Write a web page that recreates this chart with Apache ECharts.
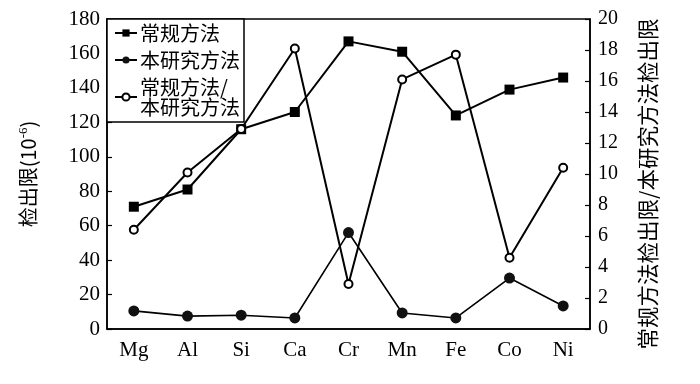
<!DOCTYPE html>
<html><head><meta charset="utf-8">
<script src="https://cdn.jsdelivr.net/npm/echarts@6/dist/echarts.min.js"></script>
<style>html,body{margin:0;padding:0;background:#fff}#c{width:700px;height:384px}</style>
</head><body><div id="c"></div>
<script>
const categories = ['Mg','Al','Si','Ca','Cr','Mn','Fe','Co','Ni'];
const conventional = [71, 81, 116, 126, 167, 161, 124, 139, 146];
const thisStudy = [10.5, 7.5, 8, 6.4, 56, 9.3, 6.4, 29.6, 13.4];
const ratio = [6.4, 10.1, 12.9, 18.1, 2.9, 16.1, 17.7, 4.6, 10.4];
const leftTicks = {min: 0, max: 180, interval: 20};
const rightTicks = {min: 0, max: 20, interval: 2};
const names = ['常规方法', '本研究方法', '常规方法/\n本研究方法'];

const serif = '"Liberation Serif", "DejaVu Serif", serif';
const cjk = '"Noto Sans CJK SC", sans-serif';
const chart = echarts.init(document.getElementById('c'), null, {renderer: 'canvas'});
chart.setOption({
  animation: false,
  backgroundColor: '#fff',
  grid: {left: 107, right: 110, top: 19, bottom: 55, outerBoundsMode: 'none', containLabel: false, show: true, borderColor: '#000', borderWidth: 1.5, backgroundColor: 'transparent'},
  legend: {
    orient: 'vertical', left: 107, top: 19,
    backgroundColor: '#fff', borderColor: '#000', borderWidth: 1.5,
    padding: [4, 4, 5, 7], itemGap: 7, itemWidth: 22, itemHeight: 9,
    textStyle: {fontFamily: cjk, fontSize: 20, color: '#000', lineHeight: 20, padding: [0,0,0,-2]},
    data: names
  },
  xAxis: {
    type: 'category', data: categories, boundaryGap: true,
    axisLine: {lineStyle: {color: '#000', width: 1.5}},
    axisTick: {inside: true, length: 6, lineStyle: {color: '#000', width: 1.2}},
    axisLabel: {fontFamily: serif, fontSize: 21, color: '#000', margin: 11},
    splitLine: {show: false}
  },
  yAxis: [{
    type: 'value', position: 'left', min: leftTicks.min, max: leftTicks.max, interval: leftTicks.interval,
    name: '检出限(10{sup|-6})', nameLocation: 'middle', nameGap: 68, nameRotate: 90,
    nameTextStyle: {fontFamily: cjk, fontSize: 20, color: '#000', rich: {sup: {fontFamily: serif, fontSize: 13, color: '#000', verticalAlign: 'top', padding: [0,0,9,0]}}},
    axisLine: {show: true, lineStyle: {color: '#000', width: 1.5}},
    axisTick: {show: true, inside: true, length: 5, lineStyle: {color: '#000', width: 1.2}},
    axisLabel: {fontFamily: serif, fontSize: 21, color: '#000', margin: 7},
    splitLine: {show: false}
  }, {
    type: 'value', position: 'right', min: rightTicks.min, max: rightTicks.max, interval: rightTicks.interval,
    name: '常规方法检出限/本研究方法检出限', nameLocation: 'middle', nameGap: 47, nameRotate: 90,
    nameTextStyle: {fontFamily: cjk, fontSize: 21.5, color: '#000', padding: [0,20,0,0]},
    axisLine: {show: true, lineStyle: {color: '#000', width: 1.5}},
    axisTick: {show: true, inside: true, length: 5, lineStyle: {color: '#000', width: 1.2}},
    axisLabel: {fontFamily: serif, fontSize: 20, color: '#000', margin: 8},
    splitLine: {show: false}
  }],
  series: [{
    name: names[0], type: 'line', yAxisIndex: 0, data: conventional,
    symbol: 'rect', symbolSize: 10,
    lineStyle: {color: '#000', width: 2}, itemStyle: {color: '#000'}
  }, {
    name: names[1], type: 'line', yAxisIndex: 0, data: thisStudy,
    symbol: 'circle', symbolSize: 11,
    lineStyle: {color: '#000', width: 1.6}, itemStyle: {color: '#111'}
  }, {
    name: names[2], type: 'line', yAxisIndex: 1, data: ratio,
    symbol: 'emptyCircle', symbolSize: 8,
    lineStyle: {color: '#000', width: 2}, itemStyle: {color: '#000', borderColor: '#000', borderWidth: 1}
  }]
});
</script></body></html>
